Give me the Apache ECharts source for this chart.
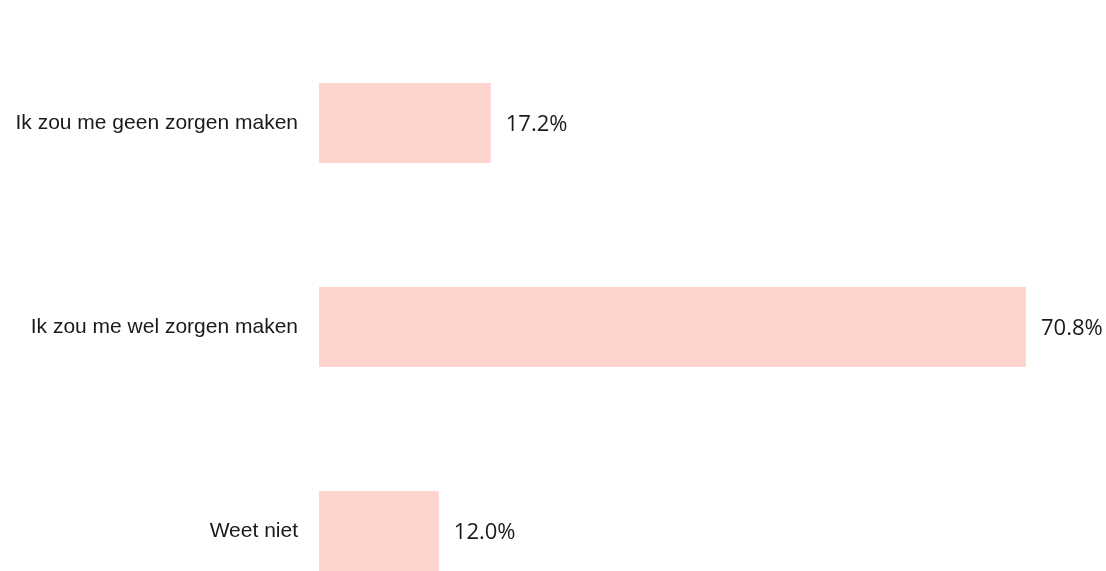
<!DOCTYPE html>
<html>
<head>
<meta charset="utf-8">
<script src="https://cdn.jsdelivr.net/npm/echarts@6/dist/echarts.min.js"></script>
<style>
  html, body { margin: 0; padding: 0; background: #fff; overflow: hidden; }
  /* the last bar runs past the bottom edge in the original, so the chart is taller than the window */
  #chart { width: 1106px; height: 633px; }
</style>
</head>
<body>
<div id="chart"></div>
<script>
var categories = ['Ik zou me geen zorgen maken', 'Ik zou me wel zorgen maken', 'Weet niet'];
var percentages = [17.2, 70.8, 12.0];

var myChart = echarts.init(document.getElementById('chart'), null, {
    renderer: 'canvas',
    useDirtyRect: false
});

var option = {
    animation: false,
    grid: {
        left: 319,
        right: 80,
        top: 21,
        bottom: 0,
        containLabel: false
    },
    xAxis: {
        type: 'value',
        min: 0,
        max: 'dataMax',
        show: false
    },
    yAxis: {
        type: 'category',
        inverse: true,
        data: categories,
        axisLine: { show: false },
        axisTick: { show: false },
        axisLabel: {
            margin: 21,
            color: '#1a1a1a',
            fontFamily: 'Liberation Sans',
            fontSize: 21
        }
    },
    series: [{
        type: 'bar',
        data: percentages,
        barWidth: 80,
        itemStyle: { color: '#ffd4cf' },
        label: {
            show: true,
            position: 'right',
            distance: 15,
            offset: [0, 2],
            color: '#1a1a1a',
            fontFamily: 'Open Sans',
            fontSize: 22,
            formatter: function (p) { return p.value.toFixed(1) + '%'; }
        }
    }]
};
myChart.setOption(option);
</script>
</body>
</html>
